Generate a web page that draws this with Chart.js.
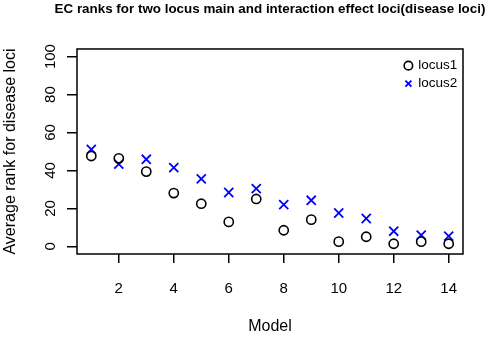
<!DOCTYPE html>
<html>
<head>
<meta charset="utf-8">
<script src="https://cdn.jsdelivr.net/npm/chart.js@4.4.0/dist/chart.umd.min.js"></script>
<style>
  html, body { margin: 0; padding: 0; background: #fff; }
  #wrap { width: 490px; height: 337px; }
</style>
</head>
<body>
<div id="wrap"><canvas id="ecChart"></canvas></div>
<script>
// 資料
let models = [1, 2, 3, 4, 5, 6, 7, 8, 9, 10, 11, 12, 13, 14]
let locus1 = [47.6, 46.4, 39.4, 28.1, 22.5, 12.9, 25.0, 8.5, 14.1, 2.5, 5.1, 1.4, 2.5, 1.4]
let locus2 = [51.1, 43.3, 45.9, 41.5, 35.6, 28.4, 30.4, 22.0, 24.3, 17.6, 14.7, 8.0, 5.9, 5.4]
let xTicks = [2, 4, 6, 8, 10, 12, 14]
let yTicks = [0, 20, 40, 60, 80, 100]

let fontFamily = '"Liberation Sans", Arial, Helvetica, sans-serif'

// 外框 + legend/title 位置
const boxPlugin = {
    id: 'boxPlugin',
    afterLayout(chart) {
        const lg = chart.legend
        const ca = chart.chartArea
        if (lg) {
            const w = lg.width, h = lg.height
            lg.left = ca.right - 62
            lg.right = lg.left + w
            lg.top = ca.top + 5.5
            lg.bottom = lg.top + h
        }
        // 標題置中於繪圖區 (不壓縮文字)
        const tb = chart.titleBlock
        if (tb) {
            const mid = (ca.left + ca.right) / 2
            tb.left = mid - 245
            tb.right = mid + 245
        }
    },
    afterDraw(chart) {
        const ca = chart.chartArea
        const ctx = chart.ctx
        ctx.save()
        ctx.strokeStyle = '#000'
        ctx.lineWidth = 1.5
        ctx.strokeRect(ca.left, ca.top, ca.right - ca.left, ca.bottom - ca.top)
        ctx.restore()
    }
}

function pairs(ys) {
    return models.map((m, i) => ({ x: m, y: ys[i] }))
}

var ctx = document.getElementById('ecChart').getContext('2d')
var ecChart = new Chart(ctx, {
    type: 'scatter',
    data: {
        datasets: [
            {
                label: 'locus1',
                data: pairs(locus1),
                pointStyle: 'circle',
                pointRadius: 4.6,
                pointHoverRadius: 4.6,
                pointBorderWidth: 1.6,
                borderColor: '#000000',
                backgroundColor: 'transparent'
            },
            {
                label: 'locus2',
                data: pairs(locus2),
                pointStyle: 'crossRot',
                pointRadius: 6.4,
                pointHoverRadius: 6.4,
                pointBorderWidth: 1.8,
                borderColor: '#0000FF',
                backgroundColor: 'transparent'
            }
        ]
    },
    options: {
        responsive: true,
        maintainAspectRatio: false,
        animation: false,
        layout: { padding: { right: 27, left: 0, top: 0, bottom: 0 } },
        plugins: {
            title: {
                display: true,
                text: 'EC ranks for two locus main and interaction effect loci(disease loci)',
                fullSize: false,
                color: '#000',
                font: { family: fontFamily, size: 13.4, weight: 'bold' },
                padding: { top: 1.5, bottom: 31.4 }
            },
            legend: {
                display: true,
                position: 'chartArea',
                align: 'start',
                labels: {
                    usePointStyle: true,
                    boxWidth: 6,
                    boxHeight: 6,
                    padding: 4.4,
                    color: '#000',
                    font: { family: fontFamily, size: 13.5 }
                }
            },
            tooltip: { enabled: false }
        },
        scales: {
            x: {
                type: 'linear',
                min: 0.48,
                max: 14.52,
                afterBuildTicks: (scale) => { scale.ticks = xTicks.map(v => ({ value: v })) },
                afterFit: (scale) => { scale.height = 83 },
                border: { display: false },
                grid: { drawOnChartArea: false, drawTicks: true, tickLength: 9, color: '#000', lineWidth: 1.5 },
                ticks: { color: '#000', font: { family: fontFamily, size: 15 }, padding: 17, maxRotation: 0, autoSkip: false },
                title: { display: true, text: 'Model', color: '#000', font: { family: fontFamily, size: 16 }, padding: { top: 4, bottom: 0.5 } }
            },
            y: {
                type: 'linear',
                min: -4,
                max: 104,
                afterBuildTicks: (scale) => { scale.ticks = yTicks.map(v => ({ value: v })) },
                afterFit: (scale) => { scale.width = 77 },
                border: { display: false },
                grid: { drawOnChartArea: false, drawTicks: true, tickLength: 10, color: '#000', lineWidth: 1.5 },
                ticks: { color: '#000', font: { family: fontFamily, size: 15 }, padding: 4, minRotation: 90, maxRotation: 90, crossAlign: 'center', autoSkip: false },
                title: { display: true, text: 'Average rank for disease loci', color: '#000', font: { family: fontFamily, size: 16 }, padding: { top: 0.5, bottom: 0 } }
            }
        }
    },
    plugins: [boxPlugin]
})
</script>
</body>
</html>
